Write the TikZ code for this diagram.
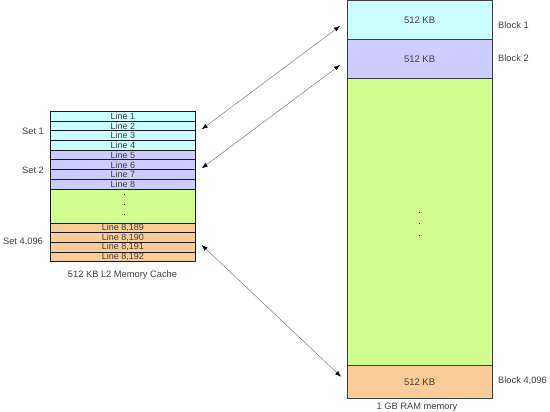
\documentclass[tikz,border=0pt]{standalone}
\usepackage{fontspec}
\setmainfont{Liberation Sans}
\usetikzlibrary{arrows.meta}
\definecolor{ccyan}{HTML}{CCFFFF}
\definecolor{clav}{HTML}{CCCCFF}
\definecolor{cgreen}{HTML}{D0FC90}
\definecolor{corange}{HTML}{F9CB98}
\definecolor{txt}{HTML}{404040}
\begin{document}
\begin{tikzpicture}[x=1pt,y=-1pt,
  row/.style={draw=black!90,line width=0.9pt,minimum width=145pt,minimum height=9.7pt,inner sep=0pt,anchor=north west,font=\fontsize{9}{9}\selectfont,text=txt},
  blk/.style={draw=black!75,line width=0.8pt,minimum width=145pt,inner sep=0pt,anchor=north west,font=\fontsize{9.5}{10}\selectfont,text=txt},
  lbl/.style={font=\fontsize{9.3}{10}\selectfont,text=txt,inner sep=0pt},
  link/.style={draw=black!50,line width=0.5pt,arrows={Latex[black,length=6pt,width=4.5pt]-Latex[black,length=6pt,width=4.5pt]}},
  dotm/.style={fill=black!40!green!50!black,inner sep=0pt,minimum size=1pt}]
\useasboundingbox (0,0) rectangle (550,412);
% cache
\node[row,fill=ccyan] (l1) at (50,111) {Line 1};
\node[row,fill=ccyan] (l2) at (50,120.7) {Line 2};
\node[row,fill=ccyan] (l3) at (50,130.4) {Line 3};
\node[row,fill=ccyan] (l4) at (50,140.1) {Line 4};
\node[row,fill=clav] (l5) at (50,149.8) {Line 5};
\node[row,fill=clav] (l6) at (50,159.5) {Line 6};
\node[row,fill=clav] (l7) at (50,169.2) {Line 7};
\node[row,fill=clav] (l8) at (50,178.9) {Line 8};
\node[row,fill=cgreen,minimum height=34pt] (cg) at (50,188.6) {};
\node[row,fill=corange] (l8189) at (50,222.6) {Line 8,189};
\node[row,fill=corange] (l8190) at (50,232.3) {Line 8,190};
\node[row,fill=corange] (l8191) at (50,242.0) {Line 8,191};
\node[row,fill=corange] (l8192) at (50,251.7) {Line 8,192};
\node[dotm] (cd1) at (124,195) {};
\node[dotm] (cd2) at (124,205) {};
\node[dotm] (cd3) at (124,215) {};
\node[lbl] (s1) at (33,131) {Set 1};
\node[lbl] (s2) at (33,170) {Set 2};
\node[lbl] (s3) at (23,242) {Set 4,096};
\node[lbl] (ccap) at (122.5,275) {512 KB L2 Memory Cache};
% RAM
\node[blk,fill=ccyan,minimum height=39pt] (b1) at (346.7,0) {512 KB};
\node[blk,fill=clav,minimum height=39pt] (b2) at (346.7,39) {512 KB};
\node[blk,fill=cgreen,minimum height=287pt] (bg) at (346.7,78) {};
\node[blk,fill=corange,minimum height=33pt] (b4096) at (346.7,365) {512 KB};
\node[dotm] (rd1) at (419,213) {};
\node[dotm] (rd2) at (419,224) {};
\node[dotm] (rd3) at (419,236) {};
\node[lbl,anchor=west] (bl1) at (498,25) {Block 1};
\node[lbl,anchor=west] (bl2) at (498,58) {Block 2};
\node[lbl,anchor=west] (bl3) at (498,381) {Block 4,096};
\node[lbl] (rcap) at (417,407) {1 GB RAM memory};
% arrows
\coordinate (a1) at (201.7,129.3);
\coordinate (a2) at (340,26);
\coordinate (b1e) at (201.7,168.3);
\coordinate (b2e) at (340,65);
\coordinate (c1) at (201.7,245);
\coordinate (c2) at (341,376.7);
\draw[link] (a1) -- (a2);
\draw[link] (b1e) -- (b2e);
\draw[link] (c1) -- (c2);
\end{tikzpicture}
\end{document}
